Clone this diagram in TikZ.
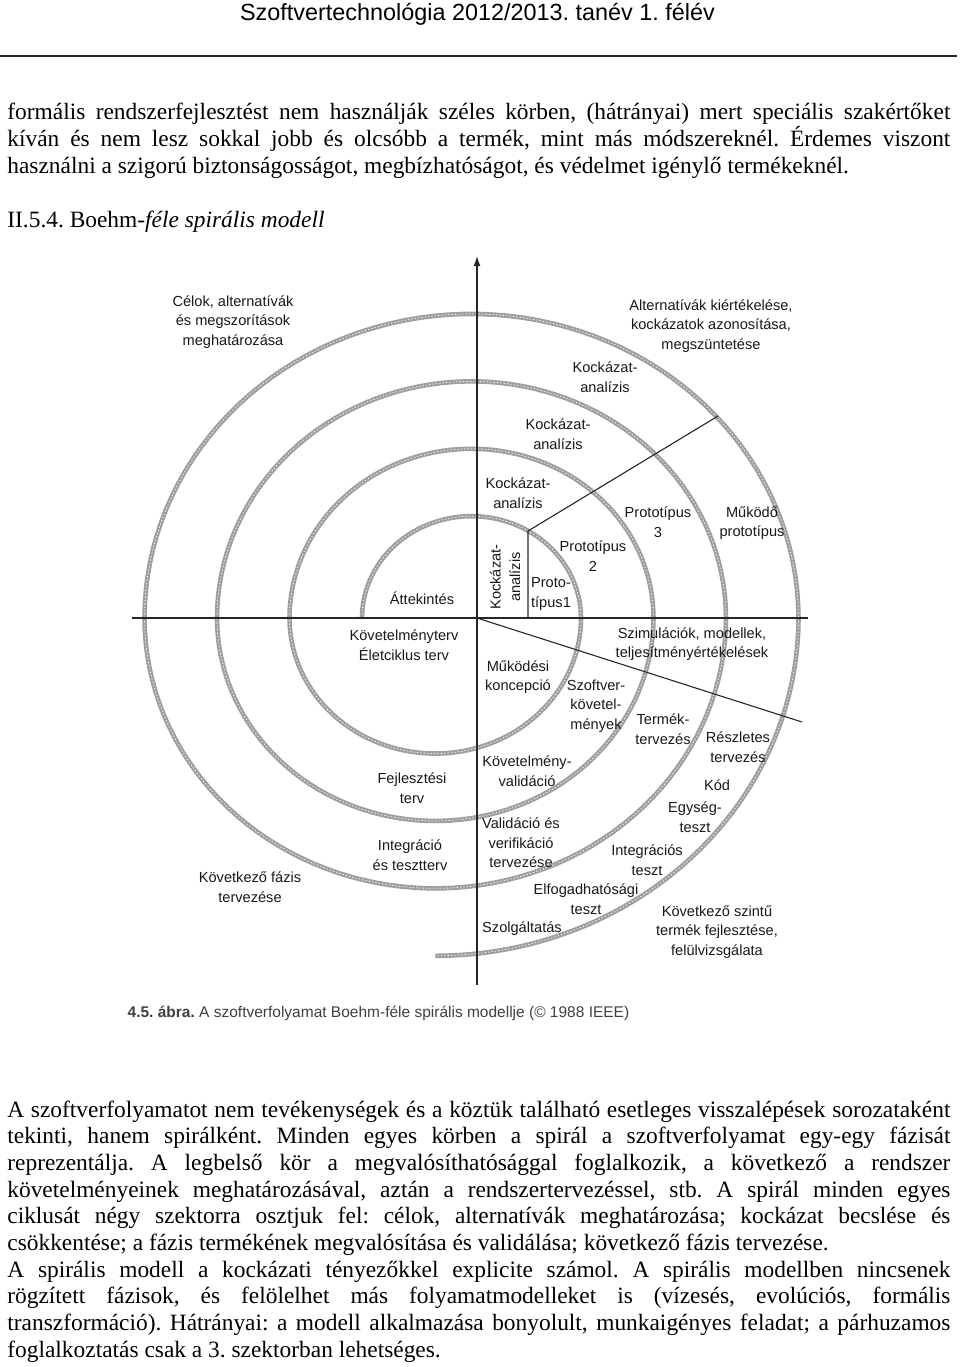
\documentclass[tikz,border=0pt]{standalone}
\usepackage{fontspec}
\setmainfont{Liberation Serif}
\newfontfamily\arialfont{Liberation Sans}
\usetikzlibrary{arrows.meta}
\frenchspacing
\newcommand{\bodyfont}{\fontsize{11.7}{13.5}\selectfont}
\newcommand{\lblfont}{\arialfont\fontsize{7.3}{9.8}\selectfont}
\newcommand{\jline}[1]{\makebox[471.5pt][s]{#1}}

\begin{document}
\begin{tikzpicture}[
    x=0.5pt, y=-0.5pt,
    >={Latex[length=5pt,width=3.4pt]},
    lbl/.style={font=\lblfont, align=center, text=black!90, inner sep=0pt},
    txt/.style={font=\bodyfont, anchor=base west, inner sep=0pt},
    spir/.style={draw=gray!75, line width=2.3pt},
    spirtex/.style={draw=white, line width=0.4pt, dash pattern=on 0.6pt off 1.1pt},
    axisline/.style={draw=black!85, line width=0.55pt},
]
    \path[use as bounding box, fill=white] (0,0) rectangle (960,1367);

    % Page header
    \node[font=\arialfont\fontsize{11.7}{14}\selectfont, anchor=base, inner sep=0pt] (head) at (477.5,20) {Szoftvertechnológia 2012/2013. tanév 1. félév};
    \coordinate (rulel) at (0,56);
    \coordinate (ruler) at (957,56);
    \draw[line width=1.3pt, black!85] (rulel) -- (ruler);

    % Text above the figure
    \node[txt] (a1) at (7,119) {\jline{formális rendszerfejlesztést nem használják széles körben, (hátrányai) mert speciális szakértőket}};
    \node[txt] (a2) at (7,146) {\jline{kíván és nem lesz sokkal jobb és olcsóbb a termék, mint más módszereknél. Érdemes viszont}};
    \node[txt] (a3) at (7,173) {használni a szigorú biztonságosságot, megbízhatóságot, és védelmet igénylő termékeknél.};
    \node[txt] (sec) at (7,227) {II.5.4. Boehm-\textit{féle spirális modell}};

    % Spiral: upper half-turns
    \foreach \r in {109.5,182,254.5,327} {
        \draw[spir] plot[domain=180:360, samples=70, variable=\t] ({471.5+\r*cos(\t)}, {618+0.93*\r*sin(\t)});
        \draw[spirtex] plot[domain=180:360, samples=70, variable=\t] ({471.5+\r*cos(\t)}, {618+0.93*\r*sin(\t)});
    }
    % Spiral: lower half-turns
    \foreach \r/\e in {145.75/180, 218.25/180, 290.75/180, 363.25/90} {
        \draw[spir] plot[domain=0:\e, samples=70, variable=\t] ({435.25+\r*cos(\t)}, {618+0.93*\r*sin(\t)});
        \draw[spirtex] plot[domain=0:\e, samples=70, variable=\t] ({435.25+\r*cos(\t)}, {618+0.93*\r*sin(\t)});
    }

    % Axes and sector lines
    \coordinate (O) at (477,618);
    \coordinate (ytop) at (477,256);
    \coordinate (ybot) at (477,985);
    \coordinate (xl) at (132,618);
    \coordinate (xr) at (808,618);
    \coordinate (pbase) at (528,618);
    \coordinate (pknee) at (528,531);
    \coordinate (pend) at (718,416);
    \coordinate (dend) at (802,722);
    \draw[axisline, ->] (ybot) -- (ytop);
    \draw[axisline] (xl) -- (xr);
    \draw[axisline] (pbase) -- (pknee) -- (pend);
    \draw[axisline] (O) -- (dend);

    % Quadrant headings
    \node[lbl] (cel) at (233,322) {Célok, alternatívák\\és megszorítások\\meghatározása};
    \node[lbl] (alt) at (711,326) {Alternatívák kiértékelése,\\kockázatok azonosítása,\\megszüntetése};
    \node[lbl] (sim) at (692,644) {Szimulációk, modellek,\\teljesítményértékelések};
    \node[lbl] (kf) at (250,887) {Következő fázis\\tervezése};

    % Risk analysis and prototypes
    \node[lbl] (ka1) at (605,377) {Kockázat-\\analízis};
    \node[lbl] (ka2) at (558,434) {Kockázat-\\analízis};
    \node[lbl] (ka3) at (518,493) {Kockázat-\\analízis};
    \node[lbl, rotate=90] (ka4) at (505,577) {Kockázat-\\analízis};
    \node[lbl] (att) at (422,598) {Áttekintés};
    \node[lbl, align=left] (pt1) at (551,594) {Proto-\\típus1};
    \node[lbl] (pt2) at (593,556) {Prototípus\\2};
    \node[lbl] (pt3) at (658,522) {Prototípus\\3};
    \node[lbl] (mpt) at (752,523) {Működő\\prototípus};

    % Plans
    \node[lbl] (ket) at (404,645) {Követelményterv\\Életciklus terv};
    \node[lbl] (fej) at (412,788) {Fejlesztési\\terv};
    \node[lbl] (intt) at (410,855) {Integráció\\és tesztterv};

    % Development
    \node[lbl] (muk) at (518,677) {Működési\\koncepció};
    \node[lbl] (szk) at (596,706) {Szoftver-\\követel-\\mények};
    \node[lbl] (ter) at (663,729) {Termék-\\tervezés};
    \node[lbl] (resz) at (738,747) {Részletes\\tervezés};
    \node[lbl] (kod) at (717,785) {Kód};
    \node[lbl] (egy) at (695,817) {Egység-\\teszt};
    \node[lbl] (kval) at (527,771) {Követelmény-\\validáció};
    \node[lbl] (vv) at (521,843) {Validáció és\\verifikáció\\tervezése};
    \node[lbl] (itz) at (647,860) {Integrációs\\teszt};
    \node[lbl] (elf) at (586,899) {Elfogadhatósági\\teszt};
    \node[lbl] (szolg) at (522,929) {Szolgáltatás};
    \node[lbl] (kszt) at (717,932) {Következő szintű\\termék fejlesztése,\\felülvizsgálata};

    % Caption
    \node[font=\arialfont\fontsize{7.75}{9}\selectfont, text=black!75, anchor=base, inner sep=0pt] (capt) at (378.5,1017) {\textbf{4.5. ábra.} A szoftverfolyamat Boehm-féle spirális modellje (© 1988 IEEE)};

    % Text below the figure
    \node[txt] (b1) at (7,1117) {\jline{A szoftverfolyamatot nem tevékenységek és a köztük található esetleges visszalépések sorozataként}};
    \node[txt] (b2) at (7,1143.7) {\jline{tekinti, hanem spirálként. Minden egyes körben a spirál a szoftverfolyamat egy-egy fázisát}};
    \node[txt] (b3) at (7,1170.4) {\jline{reprezentálja. A legbelső kör a megvalósíthatósággal foglalkozik, a következő a rendszer}};
    \node[txt] (b4) at (7,1197.1) {\jline{követelményeinek meghatározásával, aztán a rendszertervezéssel, stb. A spirál minden egyes}};
    \node[txt] (b5) at (7,1223.8) {\jline{ciklusát négy szektorra osztjuk fel: célok, alternatívák meghatározása; kockázat becslése és}};
    \node[txt] (b6) at (7,1250.5) {csökkentése; a fázis termékének megvalósítása és validálása; következő fázis tervezése.};
    \node[txt] (b7) at (7,1277.2) {\jline{A spirális modell a kockázati tényezőkkel explicite számol. A spirális modellben nincsenek}};
    \node[txt] (b8) at (7,1303.9) {\jline{rögzített fázisok, és felölelhet más folyamatmodelleket is (vízesés, evolúciós, formális}};
    \node[txt] (b9) at (7,1330.6) {\jline{transzformáció). Hátrányai: a modell alkalmazása bonyolult, munkaigényes feladat; a párhuzamos}};
    \node[txt] (b10) at (7,1357.3) {foglalkoztatás csak a 3. szektorban lehetséges.};

\end{tikzpicture}
\end{document}
